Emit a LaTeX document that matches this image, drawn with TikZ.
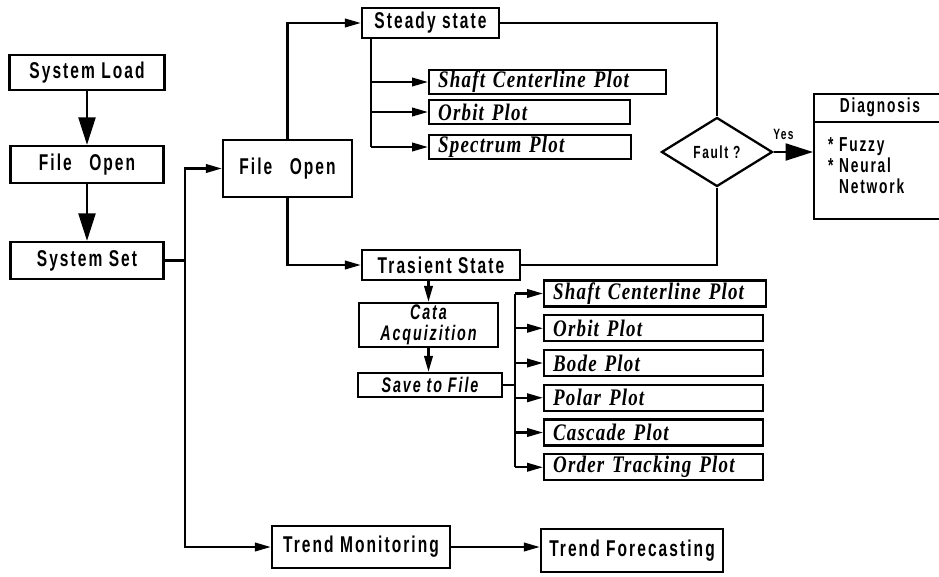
\documentclass[tikz,border=0pt]{standalone}
\usepackage{fontspec}
\newfontfamily\boxfont{Liberation Sans}[FakeStretch=0.68,LetterSpace=9]
\newfontfamily\plotfont{Liberation Serif}[FakeStretch=0.8,LetterSpace=5]
\usetikzlibrary{arrows.meta,positioning,shapes.geometric}

\begin{document}
\begin{tikzpicture}[->,>={Triangle[length=0.32cm,width=0.17cm]},line width=1.3pt,
  box/.style={draw,rectangle,inner sep=0pt,font=\boxfont\bfseries\fontsize{13}{14}\selectfont},
  itbox/.style={draw,rectangle,inner sep=0pt,align=center,font=\boxfont\bfseries\itshape\fontsize{12}{12}\selectfont},
  plotbox/.style={draw,rectangle,anchor=west,inner xsep=0.18cm,inner ysep=0pt,align=left,text width=#1,font=\plotfont\bfseries\itshape\fontsize{13.5}{15}\selectfont},
  bigtip/.style={-{Triangle[length=0.55cm,width=0.34cm]}}]
\useasboundingbox (0,0) rectangle (18.78,-11.54);
% left column
\node[box,minimum width=3.1cm,minimum height=0.7cm] (sysload) at (1.74,-1.45) {System Load};
\node[box,minimum width=3.06cm,minimum height=0.74cm] (fileone) at (1.74,-3.29) {File\hspace{0.35cm}Open};
\node[box,minimum width=3.06cm,minimum height=0.74cm] (sysset) at (1.74,-5.21) {System Set};
\node[box,minimum width=2.58cm,minimum height=1.14cm] (filetwo) at (5.75,-3.37) {File\hspace{0.35cm}Open};
% steady state
\node[box,minimum width=2.74cm,minimum height=0.6cm] (steady) at (8.61,-0.46) {Steady state};
\node[plotbox=4.38cm,minimum height=0.48cm] (sshaft) at (8.56,-1.64) {Shaft Centerline Plot};
\node[plotbox=3.66cm,minimum height=0.48cm] (sorbit) at (8.56,-2.24) {Orbit Plot};
\node[plotbox=3.68cm,minimum height=0.48cm] (sspectrum) at (8.56,-2.94) {Spectrum Plot};
% transient state
\node[box,minimum width=3.16cm,minimum height=0.6cm] (trasient) at (8.82,-5.3) {Trasient State};
\node[itbox,minimum width=2.78cm,minimum height=0.88cm] (cata) at (8.57,-6.5) {Cata\\Acquizition};
\node[itbox,minimum width=2.88cm,minimum height=0.48cm] (savefile) at (8.6,-7.7) {Save to File};
\node[plotbox=4.08cm,minimum height=0.52cm] (tshaft) at (10.86,-5.87) {Shaft Centerline Plot};
\node[plotbox=4.02cm,minimum height=0.52cm] (torbit) at (10.86,-6.565) {Orbit Plot};
\node[plotbox=4.02cm,minimum height=0.52cm] (tbode) at (10.86,-7.26) {Bode Plot};
\node[plotbox=4.02cm,minimum height=0.52cm] (tpolar) at (10.86,-7.955) {Polar Plot};
\node[plotbox=4.02cm,minimum height=0.52cm] (tcascade) at (10.86,-8.65) {Cascade Plot};
\node[plotbox=4.02cm,minimum height=0.52cm] (torder) at (10.86,-9.345) {Order Tracking Plot};
% trend
\node[box,minimum width=3.56cm,minimum height=0.84cm] (monitor) at (7.22,-10.94) {Trend Monitoring};
\node[box,minimum width=3.64cm,minimum height=0.86cm] (forecast) at (12.64,-11.01) {Trend Forecasting};
% fault and diagnosis
\node[draw,diamond,aspect=1.6,minimum width=2.22cm,minimum height=1.38cm,inner sep=0pt,font=\boxfont\bfseries\fontsize{10}{12}\selectfont] (fault) at (14.34,-3.04) {Fault ?};
\node[draw,rectangle,anchor=north west,minimum width=2.68cm,minimum height=2.5cm] (diag) at (16.26,-1.86) {};
\node[inner sep=0pt,font=\boxfont\bfseries\fontsize{11.5}{13}\selectfont] (diaghead) at (17.6,-2.15) {Diagnosis};
\node[anchor=north west,inner sep=0pt,align=left,font=\boxfont\bfseries\fontsize{11.5}{12.2}\selectfont] (diagtext) at (16.54,-2.72) {* Fuzzy\\* Neural\\\phantom{* }Network};
\draw[-] (diag.west |- 0,-2.44) -- (diag.east |- 0,-2.44);

\coordinate (split) at (3.7,-5.21);
\coordinate (sbus) at (7.42,-0.46);
\coordinate (tbus) at (10.3,-7.7);
\path[bigtip]
    (sysload) edge (fileone)
    (fileone) edge (sysset);
\draw[-] (sysset.east) -- (split);
\draw (split) |- (filetwo.west);
\draw (split) |- (monitor.west);
\draw (filetwo.north) |- (steady.west);
\draw (filetwo.south) |- (trasient.west);
\draw[-] (steady.south -| sbus) -- (sbus |- sspectrum);
\path
    (sbus |- sshaft) edge (sshaft)
    (sbus |- sorbit) edge (sorbit)
    (sbus |- sspectrum) edge (sspectrum);
\draw (trasient.south -| cata) -- (cata);
\draw (cata.south) -- (cata.south |- savefile.north);
\draw[-] (savefile.east) -- (tbus);
\draw[-] (tbus |- tshaft) -- (tbus |- torder);
\path
    (tbus |- tshaft) edge (tshaft)
    (tbus |- torbit) edge (torbit)
    (tbus |- tbode) edge (tbode)
    (tbus |- tpolar) edge (tpolar)
    (tbus |- tcascade) edge (tcascade)
    (tbus |- torder) edge (torder);
\draw[-] (steady.east) -| (fault.north);
\draw[-] (trasient.east) -| (fault.south);
\draw[bigtip] (fault.east) -- node[above=3pt,pos=0.25,font=\boxfont\bfseries\fontsize{8.5}{10}\selectfont] (yes) {Yes} (fault.east -| diag.west);
\draw (monitor.east) -- (monitor.east -| forecast.west);
\end{tikzpicture}
\end{document}
